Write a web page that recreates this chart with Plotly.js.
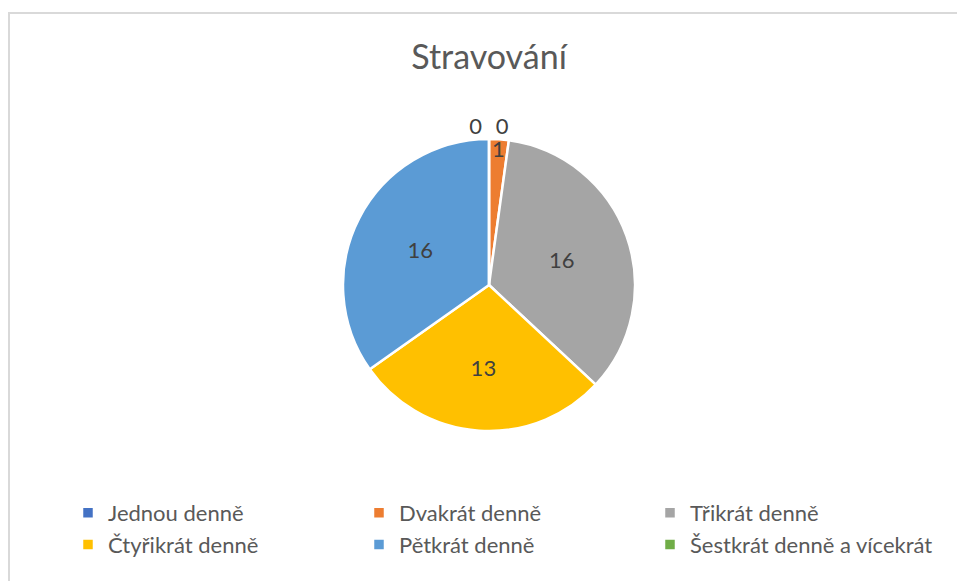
<!DOCTYPE html>
<html>
<head>
<meta charset="utf-8">
<script src="https://cdn.plot.ly/plotly-3.0.1.min.js"></script>
<style>
  html, body { margin: 0; padding: 0; background: #ffffff; }
  #chart { width: 957px; height: 581px; }
  #frame { position: absolute; left: 8px; top: 12px; width: 960px; height: 600px;
           border: 2px solid #d9d9d9; pointer-events: none; box-sizing: border-box; }
</style>
</head>
<body>
<div id="chart"></div>
<div id="frame"></div>
<script>
const chartTitle = "Stravování";
const categories = ["Jednou denně", "Dvakrát denně", "Třikrát denně", "Čtyřikrát denně", "Pětkrát denně", "Šestkrát denně a vícekrát"];
const values = [0, 1, 16, 13, 16, 0];
const colors = ["#4472C4", "#ED7D31", "#A5A5A5", "#FFC000", "#5B9BD5", "#70AD47"];
const textPositions = ["outside", "inside", "inside", "inside", "inside", "outside"];

const FONT = "Lato, 'Open Sans', sans-serif";

const trace = {
  type: "pie",
  labels: categories,
  values: values,
  sort: false,
  direction: "clockwise",
  rotation: 0,
  marker: { colors: colors, line: { color: "#ffffff", width: 2.5 } },
  textinfo: "value",
  textposition: textPositions,
  insidetextorientation: "horizontal",
  insidetextfont: { family: FONT, size: 22, color: "#404040" },
  outsidetextfont: { family: FONT, size: 22, color: "#404040" },
  textfont: { family: FONT, size: 22, color: "#404040" },
  automargin: false,
  domain: { x: [343/957, 635/957], y: [1 - 431/581, 1 - 139/581] },
  hoverinfo: "label+value"
};

const layout = {
  width: 957,
  height: 581,
  margin: { l: 0, r: 0, t: 0, b: 0 },
  paper_bgcolor: "#ffffff",
  plot_bgcolor: "#ffffff",
  font: { family: FONT, color: "#595959" },
  uniformtext: { mode: "show", minsize: 22 },
  title: {
    text: chartTitle,
    font: { family: FONT, size: 34, color: "#595959" },
    x: 489/957, xanchor: "center",
    y: 1 - 57/581, yanchor: "middle",
    xref: "container", yref: "container"
  },
  showlegend: true,
  legend: {
    orientation: "h",
    x: 68/957, xanchor: "left",
    y: 1 - 492/581, yanchor: "top",
    entrywidth: 246, entrywidthmode: "pixels",
    itemwidth: 30,
    font: { family: FONT, size: 22, color: "#595959" },
    traceorder: "normal"
  }
};

Plotly.newPlot("chart", [trace], layout, { displayModeBar: false, staticPlot: true });
</script>
</body>
</html>
